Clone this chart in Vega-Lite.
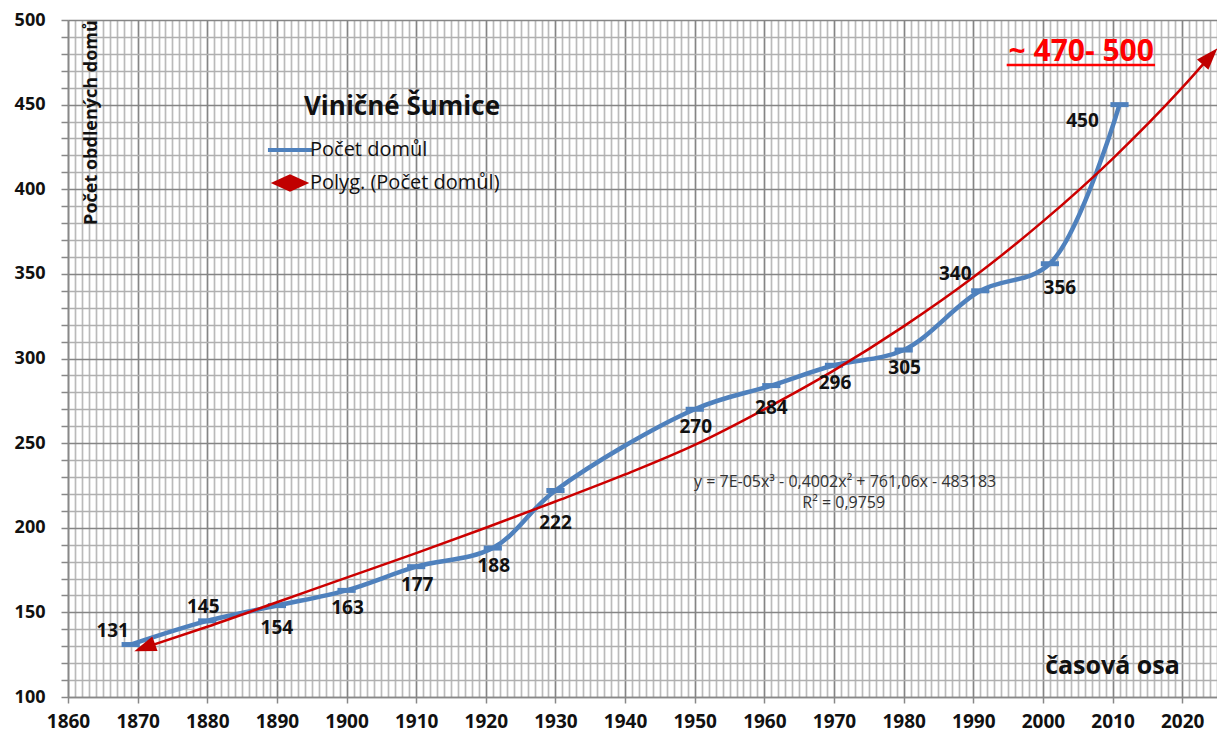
{
  "$schema": "https://vega.github.io/schema/vega-lite/v6.json",
  "width": 1149,
  "height": 677,
  "autosize": {"type": "none"},
  "padding": {"left": 68, "top": 20, "right": 0, "bottom": 39},
  "background": "white",
  "config": {"view": {"stroke": null}},
  "datasets": {
    "houses": [
      {"year": 1869, "n": 131},
      {"year": 1880, "n": 145},
      {"year": 1890, "n": 154},
      {"year": 1900, "n": 163},
      {"year": 1910, "n": 177},
      {"year": 1921, "n": 188},
      {"year": 1930, "n": 222},
      {"year": 1950, "n": 270},
      {"year": 1961, "n": 284},
      {"year": 1970, "n": 296},
      {"year": 1980, "n": 305},
      {"year": 1991, "n": 340},
      {"year": 2001, "n": 356},
      {"year": 2011, "n": 450}
    ],
    "trend": [
      {"year": 1871, "n": 129.2},
      {"year": 1880, "n": 141.5},
      {"year": 1890, "n": 156},
      {"year": 1900, "n": 170.5},
      {"year": 1910, "n": 185},
      {"year": 1920, "n": 200},
      {"year": 1930, "n": 215.5},
      {"year": 1940, "n": 231.5},
      {"year": 1950, "n": 249},
      {"year": 1960, "n": 270},
      {"year": 1970, "n": 293},
      {"year": 1980, "n": 319},
      {"year": 1990, "n": 348},
      {"year": 2000, "n": 381},
      {"year": 2010, "n": 418},
      {"year": 2020, "n": 460},
      {"year": 2024, "n": 478.5}
    ]
  },
  "layer": [
    {
      "data": {"name": "houses"},
      "mark": {"type": "line", "interpolate": "catmull-rom", "strokeWidth": 4.5},
      "encoding": {
        "x": {
          "field": "year", "type": "quantitative",
          "scale": {"domain": [1860, 2025], "nice": false, "zero": false},
          "axis": {
            "title": "časová osa", "titleFont": "Open Sans", "titleFontSize": 25, "titleFontWeight": "bold", "titleColor": "#111",
            "titleX": 1044, "titleY": -32, "titleAlign": "center", "titleBaseline": "middle",
            "tickCount": 165,
            "labelExpr": "datum.value % 10 === 0 ? '' + datum.value : ''",
            "labelFont": "Open Sans", "labelFontWeight": "bold", "labelFontSize": 19, "labelColor": "#111",
            "labelPadding": 9, "labelOverlap": false, "labelFlush": false, "labelBound": false,
            "grid": true,
            "gridColor": {"condition": {"test": "datum.value % 10 === 0", "value": "#858585"}, "value": "#bababa"},
            "gridWidth": 1.7,
            "tickSize": 6, "tickColor": "#888", "tickWidth": 1.5,
            "tickOpacity": {"condition": {"test": "datum.value % 10 === 0", "value": 1}, "value": 0},
            "domainColor": "#888", "domainWidth": 1.5
          }
        },
        "y": {
          "field": "n", "type": "quantitative",
          "scale": {"domain": [100, 500], "nice": false, "zero": false},
          "axis": {
            "title": "Počet obdlených domů", "titleFont": "Open Sans", "titleFontSize": 18, "titleFontWeight": "bold", "titleColor": "#111",
            "titleX": 23, "titleY": 102, "titleAngle": 270, "titleAlign": "center", "titleBaseline": "middle",
            "tickCount": 40,
            "labelExpr": "datum.value % 50 === 0 ? '' + datum.value : ''",
            "labelFont": "Open Sans", "labelFontWeight": "bold", "labelFontSize": 18, "labelColor": "#111",
            "labelPadding": 16, "labelOverlap": false, "labelFlush": false, "labelBound": false,
            "grid": true,
            "gridColor": {"condition": {"test": "datum.value % 50 === 0", "value": "#858585"}, "value": "#b0b0b0"},
            "gridWidth": 1.7,
            "tickSize": 7, "tickColor": "#888", "tickWidth": 1.5,
            "domainColor": "#888", "domainWidth": 1.5
          }
        },
        "color": {
          "datum": "Počet domůl", "type": "nominal",
          "scale": {"domain": ["Počet domůl", "Polyg. (Počet domůl)"], "range": ["#4F81BD", "#CC0000"]},
          "legend": {
            "orient": "none", "legendX": 212, "legendY": 74,
            "title": "Viničné Šumice", "titleFont": "Open Sans", "titleFontSize": 26, "titleFontWeight": "bold", "titleColor": "#111",
            "titleAnchor": "end", "titlePadding": 20, "titleLimit": 0,
            "labelFont": "Open Sans", "labelFontSize": 20, "labelColor": "#111", "labelOffset": 10, "labelLimit": 0,
            "symbolSize": 1225, "symbolStrokeWidth": 4, "rowPadding": 13, "padding": 0,
            "encode": {
              "symbols": {
                "update": {
                  "shape": {"signal": "datum.value === 'Počet domůl' ? 'M-1.26,0L1.26,0' : 'M-1.1,0L0,-0.5L1.1,0L0,0.5Z'"},
                  "fill": {"signal": "datum.value === 'Počet domůl' ? 'transparent' : '#C00000'"},
                  "stroke": {"signal": "datum.value === 'Počet domůl' ? '#4F81BD' : '#C00000'"},
                  "strokeWidth": {"signal": "datum.value === 'Počet domůl' ? 4 : 0"},
                  "opacity": {"value": 1}
                }
              }
            }
          }
        }
      }
    },
    {
      "data": {"name": "houses"},
      "mark": {"type": "point", "shape": "M-1,0L1,0", "size": 330, "strokeWidth": 5, "color": "#4F81BD", "filled": false, "opacity": 1},
      "encoding": {
        "x": {"field": "year", "type": "quantitative"},
        "y": {"field": "n", "type": "quantitative"}
      }
    },
    {
      "data": {"name": "trend"},
      "mark": {"type": "line", "interpolate": "monotone", "strokeWidth": 2.5},
      "encoding": {
        "x": {"field": "year", "type": "quantitative"},
        "y": {"field": "n", "type": "quantitative"},
        "color": {"datum": "Polyg. (Počet domůl)", "type": "nominal"}
      }
    },
    {
      "data": {"name": "trend"},
      "transform": [{"filter": "datum.year === 1871"}],
      "mark": {"type": "point", "shape": "M0,-1L0.7,1L-0.7,1Z", "size": 484, "angle": 250, "filled": true, "color": "#C00000", "opacity": 1},
      "encoding": {
        "x": {"field": "year", "type": "quantitative"},
        "y": {"field": "n", "type": "quantitative"}
      }
    },
    {
      "data": {"name": "trend"},
      "transform": [{"filter": "datum.year === 2024"}],
      "mark": {"type": "point", "shape": "M0,-1L0.7,1L-0.7,1Z", "size": 484, "angle": 42, "filled": true, "color": "#C00000", "opacity": 1},
      "encoding": {
        "x": {"field": "year", "type": "quantitative"},
        "y": {"field": "n", "type": "quantitative"}
      }
    },
    {
      "data": {"name": "houses"},
      "transform": [{"filter": {"field": "year", "oneOf": [1900, 1910, 1921, 1950, 1970, 1980]}}],
      "mark": {"type": "text", "font": "Open Sans", "fontWeight": "bold", "fontSize": 19, "color": "#111", "align": "center", "baseline": "middle", "dx": 1, "dy": 18},
      "encoding": {"x": {"field": "year", "type": "quantitative"}, "y": {"field": "n", "type": "quantitative"}, "text": {"field": "n"}}
    },
    {
      "data": {"name": "houses"},
      "transform": [{"filter": {"field": "year", "oneOf": [1890, 1961]}}],
      "mark": {"type": "text", "font": "Open Sans", "fontWeight": "bold", "fontSize": 19, "color": "#111", "align": "center", "baseline": "middle", "dx": 0, "dy": 22},
      "encoding": {"x": {"field": "year", "type": "quantitative"}, "y": {"field": "n", "type": "quantitative"}, "text": {"field": "n"}}
    },
    {
      "data": {"name": "houses"},
      "transform": [{"filter": {"field": "year", "oneOf": [1869]}}],
      "mark": {"type": "text", "font": "Open Sans", "fontWeight": "bold", "fontSize": 19, "color": "#111", "align": "center", "baseline": "middle", "dx": -18, "dy": -14},
      "encoding": {"x": {"field": "year", "type": "quantitative"}, "y": {"field": "n", "type": "quantitative"}, "text": {"field": "n"}}
    },
    {
      "data": {"name": "houses"},
      "transform": [{"filter": {"field": "year", "oneOf": [1880]}}],
      "mark": {"type": "text", "font": "Open Sans", "fontWeight": "bold", "fontSize": 19, "color": "#111", "align": "center", "baseline": "middle", "dx": -4, "dy": -14},
      "encoding": {"x": {"field": "year", "type": "quantitative"}, "y": {"field": "n", "type": "quantitative"}, "text": {"field": "n"}}
    },
    {
      "data": {"name": "houses"},
      "transform": [{"filter": {"field": "year", "oneOf": [1930]}}],
      "mark": {"type": "text", "font": "Open Sans", "fontWeight": "bold", "fontSize": 19, "color": "#111", "align": "center", "baseline": "middle", "dx": 0, "dy": 32},
      "encoding": {"x": {"field": "year", "type": "quantitative"}, "y": {"field": "n", "type": "quantitative"}, "text": {"field": "n"}}
    },
    {
      "data": {"name": "houses"},
      "transform": [{"filter": {"field": "year", "oneOf": [1991]}}],
      "mark": {"type": "text", "font": "Open Sans", "fontWeight": "bold", "fontSize": 19, "color": "#111", "align": "center", "baseline": "middle", "dx": -25, "dy": -17},
      "encoding": {"x": {"field": "year", "type": "quantitative"}, "y": {"field": "n", "type": "quantitative"}, "text": {"field": "n"}}
    },
    {
      "data": {"name": "houses"},
      "transform": [{"filter": {"field": "year", "oneOf": [2001]}}],
      "mark": {"type": "text", "font": "Open Sans", "fontWeight": "bold", "fontSize": 19, "color": "#111", "align": "center", "baseline": "middle", "dx": 10, "dy": 24},
      "encoding": {"x": {"field": "year", "type": "quantitative"}, "y": {"field": "n", "type": "quantitative"}, "text": {"field": "n"}}
    },
    {
      "data": {"name": "houses"},
      "transform": [{"filter": {"field": "year", "oneOf": [2011]}}],
      "mark": {"type": "text", "font": "Open Sans", "fontWeight": "bold", "fontSize": 19, "color": "#111", "align": "center", "baseline": "middle", "dx": -37, "dy": 16},
      "encoding": {"x": {"field": "year", "type": "quantitative"}, "y": {"field": "n", "type": "quantitative"}, "text": {"field": "n"}}
    },
    {
      "data": {"values": [{}]},
      "mark": {"type": "text", "font": "Open Sans", "fontSize": 16, "color": "#333", "align": "center", "baseline": "middle", "text": "y = 7E-05x³ - 0,4002x² + 761,06x - 483183"},
      "encoding": {"x": {"datum": 1971.6, "type": "quantitative"}, "y": {"datum": 227.2, "type": "quantitative"}}
    },
    {
      "data": {"values": [{}]},
      "mark": {"type": "text", "font": "Open Sans", "fontSize": 16, "color": "#333", "align": "center", "baseline": "middle", "text": "R² = 0,9759"},
      "encoding": {"x": {"datum": 1971.4, "type": "quantitative"}, "y": {"datum": 214.4, "type": "quantitative"}}
    },
    {
      "data": {"values": [{}]},
      "mark": {"type": "text", "font": "Open Sans", "fontSize": 30, "fontWeight": "bold", "color": "#FF0000", "align": "center", "baseline": "alphabetic", "text": "~ 470- 500"},
      "encoding": {"x": {"datum": 2005.5, "type": "quantitative"}, "y": {"datum": 475.6, "type": "quantitative"}}
    },
    {
      "data": {"values": [{}]},
      "mark": {"type": "rule", "color": "#FF0000", "strokeWidth": 2.5},
      "encoding": {
        "x": {"datum": 1994.8, "type": "quantitative"},
        "x2": {"datum": 2016.1},
        "y": {"datum": 473.4, "type": "quantitative"}
      }
    }
  ]
}
